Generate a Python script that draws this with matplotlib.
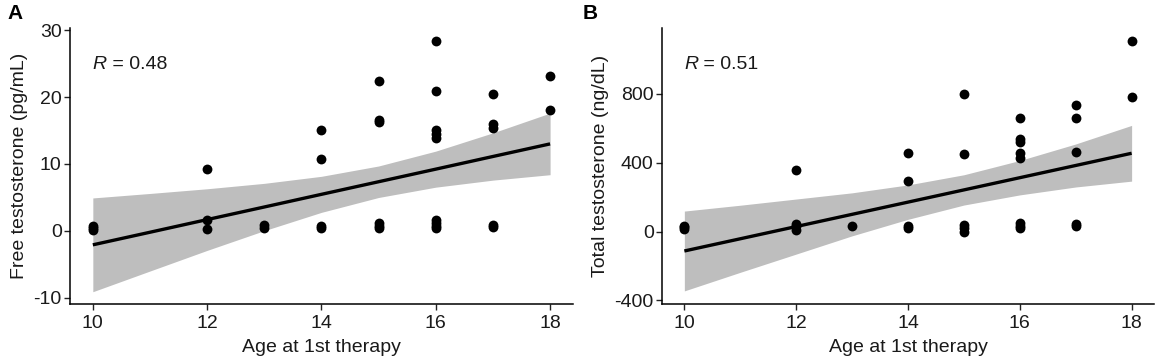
import numpy as np
import matplotlib.pyplot as plt

plt.rcParams['font.family'] = ['Liberation Sans', 'DejaVu Sans']

# Panel A: free testosterone (pg/mL) by age at 1st therapy
age_a = [10, 10, 10, 12, 12, 12, 13, 13, 14, 14, 14, 14,
         15, 15, 15, 15, 15, 15, 16, 16, 16, 16, 16, 16, 16, 16, 16,
         17, 17, 17, 17, 17, 18, 18]
free_t = [0.2, 0.5, 0.8, 9.2, 1.6, 0.3, 0.5, 0.9, 15.1, 10.8, 0.5, 0.7,
          22.4, 16.5, 16.2, 1.2, 0.8, 0.5, 28.4, 20.9, 15.1, 14.5, 13.9, 1.7, 1.2, 0.8, 0.5,
          20.5, 15.9, 15.4, 0.9, 0.6, 23.2, 18.1]

# Panel B: total testosterone (ng/dL) by age at 1st therapy
age_b = [10, 10, 10, 12, 12, 12, 12, 13, 14, 14, 14, 14,
         15, 15, 15, 15, 15, 16, 16, 16, 16, 16, 16, 16, 16,
         17, 17, 17, 17, 17, 18, 18]
total_t = [15, 25, 35, 357, 45, 30, 10, 30, 455, 295, 35, 20,
           800, 450, 40, 20, 0, 660, 535, 520, 455, 430, 50, 35, 20,
           737, 660, 465, 45, 30, 1105, 782]

# fitted line and 95% band at each age
band_age = [10, 11, 12, 13, 14, 15, 16, 17, 18]
fit_a = [-2.07, -0.19, 1.70, 3.58, 5.47, 7.35, 9.23, 11.12, 13.0]
upper_a = [4.93, 5.60, 6.30, 7.11, 8.16, 9.70, 11.92, 14.65, 17.6]
lower_a = [-9.07, -5.98, -2.90, 0.05, 2.78, 5.00, 6.54, 7.59, 8.4]
fit_b = [-113, -42, 29, 100, 171, 242, 313, 384, 455]
upper_b = [119, 153, 189, 225, 271, 330, 413, 509, 617]
lower_b = [-345, -237, -131, -25, 71, 154, 213, 259, 293]

r_values = ['0.48', '0.51']
y_titles = ['Free testosterone (pg/mL)', 'Total testosterone (ng/dL)']
x_title = 'Age at 1st therapy'
panel_tags = ['A', 'B']

fig = plt.figure(figsize=(11.7, 3.6), dpi=100)
ax_a = fig.add_axes([0.0598, 0.1556, 0.4299, 0.7666])
ax_b = fig.add_axes([0.5658, 0.1556, 0.4205, 0.7666])

setups = [
    (ax_a, age_a, free_t, fit_a, upper_a, lower_a, (-10.9, 30.3),
     [-10, 0, 10, 20, 30], ['-10', '0', '10', '20', '30'], 24.9),
    (ax_b, age_b, total_t, fit_b, upper_b, lower_b, (-421, 1183),
     [-400, 0, 400, 800], ['-400', '0', '400', '800'], 970),
]

txt_col = '#1a1a1a'
for i, (ax, xv, yv, fit, up, lo, ylim, yt, ytl, r_y) in enumerate(setups):
    ax.fill_between(band_age, lo, up, color='#bebebe', lw=0, zorder=1)
    ax.plot(band_age, fit, color='black', lw=2.4, zorder=2, solid_capstyle='butt')
    ax.scatter(xv, yv, s=50, color='black', zorder=3, linewidths=0)

    ax.set_xlim(9.6, 18.4)
    ax.set_ylim(*ylim)
    ax.set_xticks([10, 12, 14, 16, 18])
    ax.set_yticks(yt)
    ax.set_yticklabels(ytl)
    for side in ['top', 'right']:
        ax.spines[side].set_visible(False)
    for side in ['left', 'bottom']:
        ax.spines[side].set_linewidth(1.1)
    ax.tick_params(labelsize=14, length=4, width=1.0,
                   colors='#222222', labelcolor=txt_col)
    ax.tick_params(axis='x', pad=4)
    ax.tick_params(axis='y', pad=2)
    ax.set_xlabel(x_title, fontsize=14, color=txt_col, labelpad=5)
    ax.set_ylabel(y_titles[i], fontsize=14, color=txt_col, labelpad=4)

    # "R" in italics, value upright
    t1 = ax.text(10, r_y, 'R', fontsize=14, fontstyle='italic',
                 va='center', ha='left', color=txt_col)
    ax.annotate(' = ' + r_values[i], xy=(1, 0.5), xycoords=t1,
                va='center', ha='left', fontsize=14, color=txt_col)

fig.text(0.006, 0.99, panel_tags[0], fontsize=15, fontweight='bold', va='top', ha='left')
fig.text(0.498, 0.99, panel_tags[1], fontsize=15, fontweight='bold', va='top', ha='left')

fig.savefig('out.png', dpi=100)
